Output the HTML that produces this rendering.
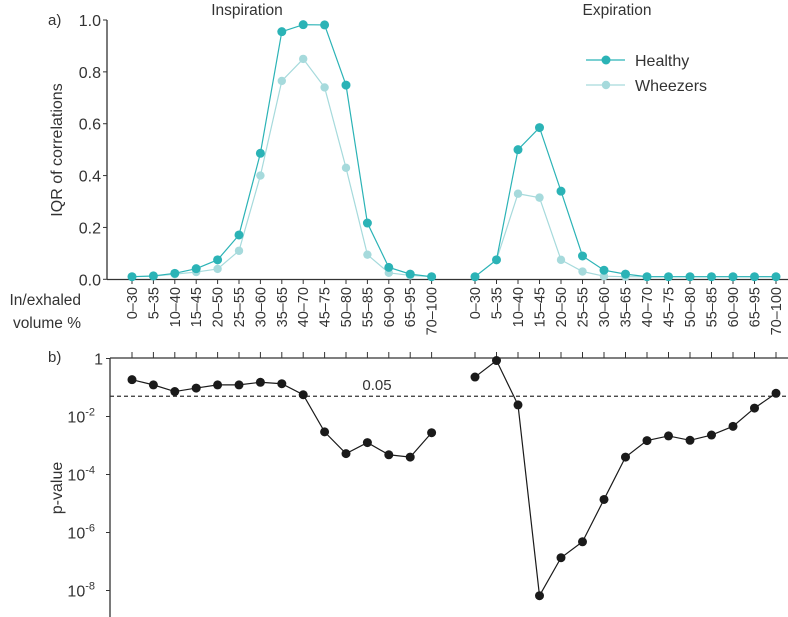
<!DOCTYPE html>
<html><head><meta charset="utf-8"><style>
body{margin:0;background:#fff;}
svg{display:block;font-family:"Liberation Sans",sans-serif;}
</style></head><body>
<svg id="chart" width="788" height="617" viewBox="0 0 788 617"></svg>
<script>
const categories=["0–30","5–35","10–40","15–45","20–50","25–55","30–60","35–65","40–70","45–75","50–80","55–85","60–90","65–95","70–100"];
const inspHealthy=[0.01,0.013,0.023,0.041,0.075,0.171,0.486,0.955,0.982,0.981,0.749,0.217,0.046,0.02,0.01];
const inspWheezers=[0.01,0.012,0.02,0.028,0.04,0.11,0.40,0.765,0.85,0.74,0.43,0.095,0.025,0.015,0.01];
const expHealthy=[0.01,0.075,0.50,0.585,0.34,0.09,0.035,0.02,0.01,0.01,0.01,0.01,0.01,0.01,0.01];
const expWheezers=[0.01,0.075,0.33,0.315,0.075,0.03,0.012,0.01,0.01,0.01,0.01,0.01,0.01,0.01,0.01];
const inspLogP=[-0.73,-0.91,-1.14,-1.02,-0.91,-0.91,-0.82,-0.87,-1.25,-2.53,-3.28,-2.90,-3.32,-3.40,-2.56];
const expLogP=[-0.64,-0.07,-1.60,-8.18,-6.87,-6.32,-4.86,-3.40,-2.83,-2.67,-2.82,-2.64,-2.34,-1.71,-1.20];
const topTicks=[0,0.2,0.4,0.6,0.8,1.0];
const pTicks=[0,-2,-4,-6,-8];
const threshold=0.05;

const NS="http://www.w3.org/2000/svg";
const svg=document.getElementById('chart');
function el(tag,attrs,parent){const e=document.createElementNS(NS,tag);for(const k in attrs)e.setAttribute(k,attrs[k]);(parent||svg).appendChild(e);return e;}
const inspX=i=>132+i*21.4;
const expX=i=>475+i*21.5;
const yTop=v=>279.3-v*259.3;
const yP=l=>358.5-l*29;
const H="#2bb3b6",W="#a6dadc",ink="#333";

// top panel axes
let a=el('line',{x1:107,y1:20,x2:107,y2:279.5,stroke:ink,'stroke-width':1.3});

a=el('line',{x1:107,y1:279.5,x2:788,y2:279.5,stroke:ink,'stroke-width':1.3});

topTicks.forEach(v=>{
  const t=el('text',{x:101,y:yTop(v)+6,'text-anchor':'end','font-size':16,fill:ink});
  t.textContent=v.toFixed(1);
  
  el('line',{x1:103,x2:107,y1:yTop(v),y2:yTop(v),stroke:ink});
});
function xLabels(xf,grp){
  categories.forEach((c,i)=>{
    const x=xf(i);
    el('line',{x1:x,x2:x,y1:279.5,y2:284,stroke:ink});
    const t=el('text',{transform:`translate(${x+5},287) rotate(-90)`,'text-anchor':'end','font-size':14.5,fill:ink});
    t.textContent=c;
    
  });
}
xLabels(inspX,'inspiration');xLabels(expX,'expiration');

function series(vals,xf,yf,color,r,name,sw){
  const g=el('g',{});
  
  el('polyline',{points:vals.map((v,i)=>xf(i)+','+yf(v)).join(' '),fill:'none',stroke:color,'stroke-width':sw},g);
  vals.forEach((v,i)=>{const c=el('circle',{cx:xf(i),cy:yf(v),r:r,fill:color},g);
    });
}
series(inspWheezers,inspX,yTop,W,4.2,'inspiration-wheezers-line',1.2);
series(expWheezers,expX,yTop,W,4.2,'expiration-wheezers-line',1.2);
series(inspHealthy,inspX,yTop,H,4.5,'inspiration-healthy-line',1.2);
series(expHealthy,expX,yTop,H,4.5,'expiration-healthy-line',1.2);

// legend
const lg=el('g',{});
el('line',{x1:586,x2:625,y1:60,y2:60,stroke:H,'stroke-width':1.3},lg);
el('circle',{cx:606,cy:60,r:4.5,fill:H},lg);
let lt=el('text',{x:635,y:66,'font-size':16,fill:ink},lg);lt.textContent='Healthy';

el('line',{x1:586,x2:625,y1:85,y2:85,stroke:W,'stroke-width':1.3},lg);
el('circle',{cx:606,cy:85,r:4.2,fill:W},lg);
lt=el('text',{x:635,y:91,'font-size':16,fill:ink},lg);lt.textContent='Wheezers';


// titles/labels
function txt(x,y,s,fs,name,extra){const t=el('text',Object.assign({x:x,y:y,'font-size':fs,fill:ink},extra||{}));t.textContent=s;
  return t;}
txt(247,15,'Inspiration',15.5,'inspiration-title',{'text-anchor':'middle'});
txt(617,15,'Expiration',15.5,'expiration-title',{'text-anchor':'middle'});
txt(48,25,'a)',15,'panel-a-label');
txt(48,362,'b)',15,'panel-b-label');
txt(0,0,'IQR of correlations',16,'top-y-axis-title',{transform:'translate(62,150) rotate(-90)','text-anchor':'middle'});
txt(81,305,'In/exhaled',15.5,'x-axis-title-line1',{'text-anchor':'end'});
txt(81,328,'volume %',15.5,'x-axis-title-line2',{'text-anchor':'end'});
txt(0,0,'p-value',16,'bottom-y-axis-title',{transform:'translate(62,488) rotate(-90)','text-anchor':'middle'});

// bottom panel axes
a=el('line',{x1:110,y1:358,x2:110,y2:617,stroke:ink,'stroke-width':1.3});

a=el('line',{x1:110,y1:358,x2:788,y2:358,stroke:ink,'stroke-width':1.3});

categories.forEach((c,i)=>{el('line',{x1:inspX(i),x2:inspX(i),y1:352,y2:358,stroke:ink});el('line',{x1:expX(i),x2:expX(i),y1:352,y2:358,stroke:ink});});
pTicks.forEach(l=>{
  el('line',{x1:106,x2:110,y1:yP(l),y2:yP(l),stroke:ink});
  const t=el('text',{x:103,y:yP(l)+6,'text-anchor':'end','font-size':16,fill:ink});
  
  if(l===0){t.textContent='1';}else{t.textContent='10';const s=el('tspan',{dy:-7,'font-size':11},t);s.textContent=String(l).replace('-','-');
    t.setAttribute('x',95);}
});
const ty=yP(Math.log10(threshold));
a=el('line',{x1:110,x2:788,y1:ty,y2:ty,stroke:ink,'stroke-width':1.2,'stroke-dasharray':'4,3'});

txt(377,ty-6,'0.05',15,'significance-label',{'text-anchor':'middle'});
series(inspLogP,inspX,yP,'#1a1a1a',4.5,'inspiration-p-value-line',1.2);
series(expLogP,expX,yP,'#1a1a1a',4.5,'expiration-p-value-line',1.2);
</script>
</body></html>
